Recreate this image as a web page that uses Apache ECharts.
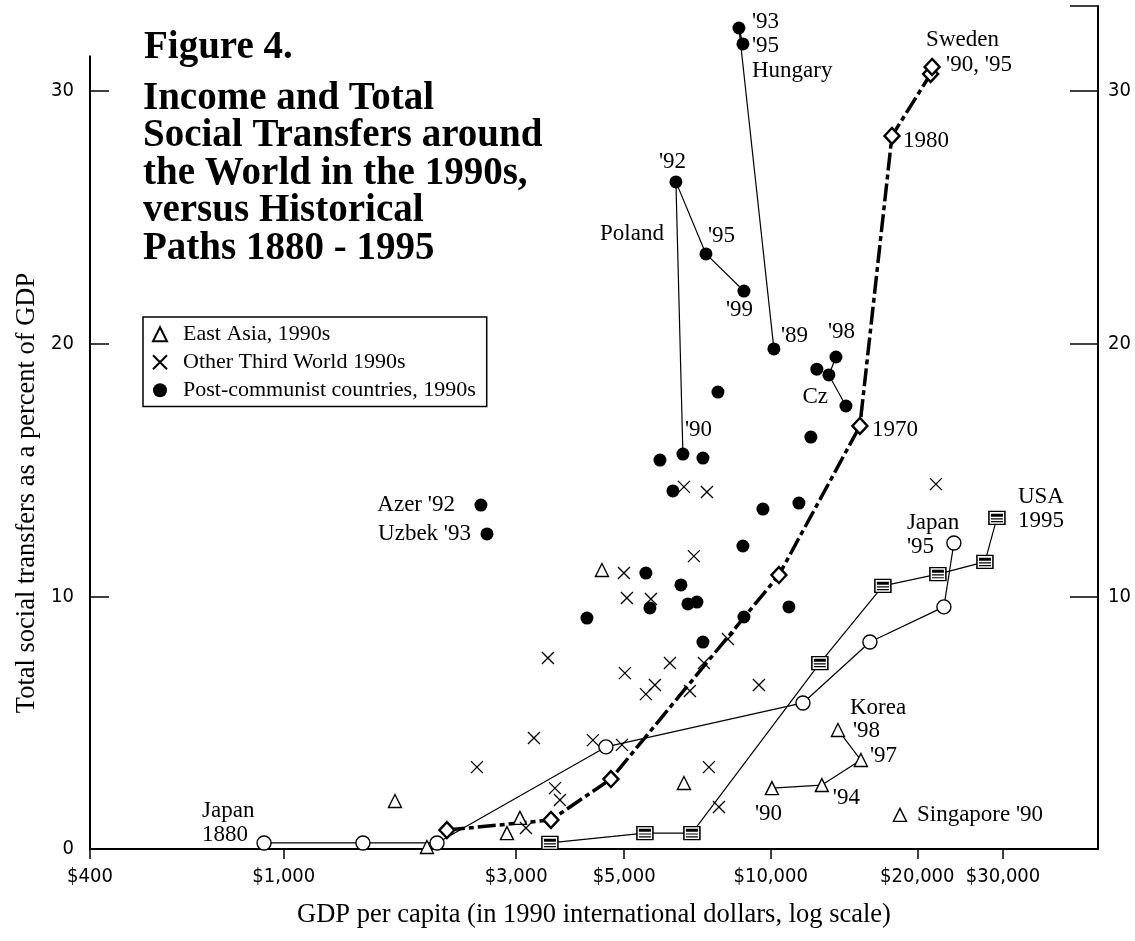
<!DOCTYPE html>
<html>
<head>
<meta charset="utf-8">
<script src="https://cdn.jsdelivr.net/npm/echarts@6/dist/echarts.min.js"></script>
<style>
  html, body { margin: 0; padding: 0; background: #fff; }
  #chart { width: 1135px; height: 941px; }
</style>
</head>
<body>
<div id="chart"></div>
<script>
// GDP per capita (1990 international dollars) vs. total social transfers (% of GDP)

const xTicks = [400, 1000, 3000, 5000, 10000, 20000, 30000];
const yTicksLeft = [0, 10, 20, 30];
const yTicksRight = [10, 20, 30];
const xMin = 400, xMax = 47000;
const yMax = 33.36;
const leftAxisTop = 31.4;

// East Asia, 1990s
const eastAsia = [[1692, 1.90], [1968, 0.08], [2873, 0.63], [3055, 1.23], [4502, 11.04], [6634, 2.61]];
const singapore90 = [18424, 1.35];
const korea = [[10057, 2.41], [12735, 2.53], [15317, 3.52], [13742, 4.71]];
const koreaYears = ["'90", "'94", "'97", "'98"];

// Other Third World, 1990s
const otherThirdWorld = [
  [2493, 3.24], [3264, 4.39], [3487, 7.56], [4314, 4.31], [4948, 4.12], [3605, 2.41], [3691, 1.94],
  [3143, 0.83], [4995, 10.92], [5066, 9.93], [5675, 9.89], [6634, 14.33], [7396, 14.13], [6954, 11.59],
  [8167, 8.31], [5018, 6.96], [6209, 7.36], [7292, 7.36], [5542, 6.13], [5783, 6.49], [6824, 6.25],
  [9458, 6.49], [7466, 3.24], [7828, 1.66], [21839, 14.44]
];

// Post-communist countries, 1990s
const postCommunist = [
  [7791, 18.08], [12090, 16.30], [5923, 15.39], [7258, 15.47], [6297, 14.17], [9638, 13.45],
  [11427, 13.69], [8768, 11.99], [5542, 10.92], [6540, 10.45], [5648, 9.54], [6760, 9.70],
  [7054, 9.77], [4194, 9.14], [10898, 9.58], [8810, 9.18], [7258, 8.19], [12437, 18.99]
];
const azer92 = [2540, 13.61];
const uzbek93 = [2614, 12.47];
const hungary = [[10151, 19.79], [8604, 32.49], [8768, 31.86]];      // '89, '93, '95
const poland = [[6602, 15.63], [6387, 26.40], [7362, 23.55], [8810, 22.08]]; // '90, '92, '95, '99
const czech = [[14271, 17.53], [13166, 18.76], [13613, 19.47]];       // ... '98

// Historical paths 1880 - 1995
const japanPath = [[911, 0.24], [1454, 0.24], [2064, 0.24], [4587, 4.04], [11646, 5.78], [15985, 8.19], [22680, 9.58], [23777, 12.11]];
const usaPath = [[3520, 0.24], [5516, 0.63], [6889, 0.63], [12615, 7.36], [16995, 10.41], [22045, 10.88], [27538, 11.36], [29143, 13.10]];
const swedenPath = [[2163, 0.75], [3537, 1.15], [4697, 2.77], [10395, 10.84], [15245, 16.74], [17741, 28.22], [21300, 30.67], [21450, 30.95]];

const SERIF = "'Liberation Serif', 'DejaVu Serif', serif";
const NARROW = "'Liberation Sans Narrow', 'DejaVu Sans Condensed', 'Liberation Sans', sans-serif";

const CROSS = 'path://M0,0L12,12M12,0L0,12';
const STRIPES = 'path://M0,0H12V3H0Z M0,4.6H12V5.8H0Z M0,7.4H12V8.6H0Z';

// text annotations anchored to data points (offsets in pixels)
function note(pt, text, dx, dy, align) {
  return {
    value: pt,
    label: { show: true, formatter: text, offset: [dx, dy], align: align || 'left' }
  };
}
const last = a => a[a.length - 1];

const notes = [
  note(hungary[1], "'93", 13, -6),
  note(hungary[2], "'95", 9, 2),
  note(hungary[2], 'Hungary', 9, 27),
  note(hungary[0], "'89", 7, -13),
  note(poland[1], "'92", -17, -20),
  note(poland[2], "'95", 2, -18),
  note(poland[3], "'99", -18, 19),
  note(poland[1], 'Poland', -12, 52, 'right'),
  note(poland[0], "'90", 2, -24),
  note(azer92, "Azer '92", -26, 0, 'right'),
  note(uzbek93, "Uzbek '93", -16, 0, 'right'),
  note(czech[2], "'98", -8, -25),
  note(czech[0], 'Cz', -18, -9, 'right'),
  note(last(swedenPath), 'Sweden', -6, -27),
  note(last(swedenPath), "'90, '95", 14, -2),
  note(swedenPath[5], '1980', 11, 5),
  note(swedenPath[4], '1970', 12, 4),
  note(japanPath[0], 'Japan\n1880', -62, -20),
  note(last(japanPath), "Japan\n'95", -47, -8),
  note(last(usaPath), 'USA\n1995', 21, -9),
  note(korea[3], 'Korea', 12, -22),
  note(korea[3], koreaYears[3], 15, 1),
  note(korea[2], koreaYears[2], 9, -4),
  note(korea[1], koreaYears[1], 11, 13),
  note(korea[0], koreaYears[0], -17, 26),
  note(singapore90, "Singapore '90", 17, 0)
];

const thin = { color: '#000', width: 1.2 };
const dot = { symbol: 'circle', symbolSize: 13, itemStyle: { color: '#000', opacity: 1 } };
const tri = { symbol: 'triangle', symbolSize: [13, 13], itemStyle: { color: '#fff', borderColor: '#000', borderWidth: 1.4, opacity: 1 } };

const chart = echarts.init(document.getElementById('chart'), null, { renderer: 'canvas' });

chart.setOption({
  animation: false,
  backgroundColor: '#fff',
  textStyle: { fontFamily: SERIF, color: '#000' },
  title: [
    {
      text: 'Figure 4.', left: 144, top: 28, padding: 0,
      textStyle: { fontFamily: SERIF, fontWeight: 'bold', fontSize: 39, lineHeight: 40, color: '#000' }
    },
    {
      text: 'Income and Total\nSocial Transfers around\nthe World in the 1990s,\nversus Historical\nPaths 1880 - 1995',
      left: 143, top: 80, padding: 0,
      textStyle: { fontFamily: SERIF, fontWeight: 'bold', fontSize: 39, lineHeight: 37.5, color: '#000' }
    }
  ],
  legend: {
    orient: 'vertical', left: 143, top: 317,
    data: ['East Asia, 1990s', 'Other Third World 1990s', 'Post-communist countries, 1990s'],
    borderColor: '#000', borderWidth: 1.5, borderRadius: 0,
    padding: [6, 11, 5, 9],
    itemWidth: 14, itemHeight: 14, itemGap: 5.5,
    selectedMode: false,
    textStyle: { fontFamily: SERIF, fontSize: 22, lineHeight: 22.5, color: '#000', padding: [0, 0, 0, 11] }
  },
  grid: { left: 90, right: 37, top: 6, bottom: 92, containLabel: false },
  xAxis: {
    type: 'log', logBase: 10, min: xMin, max: xMax,
    name: 'GDP per capita (in 1990 international dollars, log scale)',
    nameLocation: 'middle', nameGap: 53,
    nameTextStyle: { fontFamily: SERIF, fontSize: 26.5, color: '#000' },
    axisLine: { show: true, lineStyle: { color: '#000', width: 2 } },
    axisTick: { show: true, inside: false, length: 10, customValues: xTicks, lineStyle: { color: '#000', width: 1.5 } },
    axisLabel: {
      customValues: xTicks, margin: 18,
      fontFamily: NARROW, fontSize: 20, color: '#000',
      formatter: v => '$' + Math.round(v).toLocaleString('en-US')
    },
    splitLine: { show: false },
    minorTick: { show: false }
  },
  yAxis: [
    {
      type: 'value', position: 'left', min: 0, max: yMax,
      axisLine: { show: false },
      axisTick: { show: true, inside: true, length: 19, customValues: yTicksLeft, lineStyle: { color: '#000', width: 1.5 } },
      axisLabel: { customValues: yTicksLeft, margin: 16, fontFamily: NARROW, fontSize: 20, color: '#000', padding: [0, 0, 7, 0] },
      splitLine: { show: false }
    },
    {
      type: 'value', position: 'right', min: 0, max: yMax,
      axisLine: { show: true, lineStyle: { color: '#000', width: 2 } },
      axisTick: { show: true, inside: true, length: 28, customValues: yTicksRight.concat([yMax]), lineStyle: { color: '#000', width: 1.5 } },
      axisLabel: { customValues: yTicksRight, margin: 10, fontFamily: NARROW, fontSize: 20, color: '#000' },
      splitLine: { show: false }
    }
  ],
  graphic: [
    {
      type: 'text', x: 27, y: 493, rotation: Math.PI / 2,
      style: {
        text: 'Total social transfers as a percent of GDP',
        font: '26.5px ' + SERIF, fill: '#000', align: 'center', verticalAlign: 'middle'
      }
    }
  ],
  series: [
    // historical paths
    {
      name: 'Japan', type: 'line', data: japanPath, z: 3,
      lineStyle: thin, symbol: 'circle', symbolSize: 14,
      itemStyle: { color: '#fff', borderColor: '#000', borderWidth: 1.4 }
    },
    {
      name: 'USA', type: 'line', data: usaPath, z: 3,
      lineStyle: thin, symbol: 'rect', symbolSize: [16, 13],
      itemStyle: { color: '#fff', borderColor: '#000', borderWidth: 1.4 }
    },
    {
      name: 'USA stripes', type: 'scatter', data: usaPath, z: 4, silent: true,
      symbol: STRIPES, symbolSize: [12, 8.6], itemStyle: { color: '#000', opacity: 1 }
    },
    {
      name: 'Sweden', type: 'line', data: swedenPath, z: 5,
      lineStyle: { color: '#000', width: 3.5, type: [18, 4, 5, 4] },
      symbol: 'diamond', symbolSize: [15, 16],
      itemStyle: { color: '#fff', borderColor: '#000', borderWidth: 2.4 }
    },
    // East Asia
    Object.assign({ name: 'East Asia, 1990s', type: 'scatter', data: eastAsia.concat([singapore90]), z: 6 }, tri),
    Object.assign({ name: 'Korea', type: 'line', data: korea, z: 6, lineStyle: thin }, tri),
    // Other Third World
    {
      name: 'Other Third World 1990s', type: 'scatter', data: otherThirdWorld, z: 6,
      symbol: CROSS, symbolSize: 12,
      itemStyle: { color: 'rgba(0,0,0,0)', borderColor: '#000', borderWidth: 1.3, opacity: 1 }
    },
    // Post-communist
    Object.assign({ name: 'Post-communist countries, 1990s', type: 'scatter', data: postCommunist.concat([azer92, uzbek93]), z: 7 }, dot),
    Object.assign({ name: 'Hungary', type: 'line', data: hungary, z: 7, lineStyle: thin }, dot),
    Object.assign({ name: 'Poland', type: 'line', data: poland, z: 7, lineStyle: thin }, dot),
    Object.assign({ name: 'Czech Republic', type: 'line', data: czech, z: 7, lineStyle: thin }, dot),
    // annotations and the left axis line
    {
      name: 'notes', type: 'scatter', data: notes, z: 8, silent: true,
      symbol: 'circle', symbolSize: 1, itemStyle: { color: 'rgba(0,0,0,0)', opacity: 1 },
      label: {
        show: true, position: 'inside', verticalAlign: 'middle',
        fontFamily: SERIF, fontSize: 23, lineHeight: 24, color: '#000', opacity: 1
      },
      markLine: {
        silent: true, symbol: ['none', 'none'], animation: false,
        label: { show: false },
        lineStyle: { color: '#000', width: 2, type: 'solid' },
        data: [[{ coord: [xMin, 0] }, { coord: [xMin, leftAxisTop] }]]
      }
    }
  ]
});
</script>
</body>
</html>
